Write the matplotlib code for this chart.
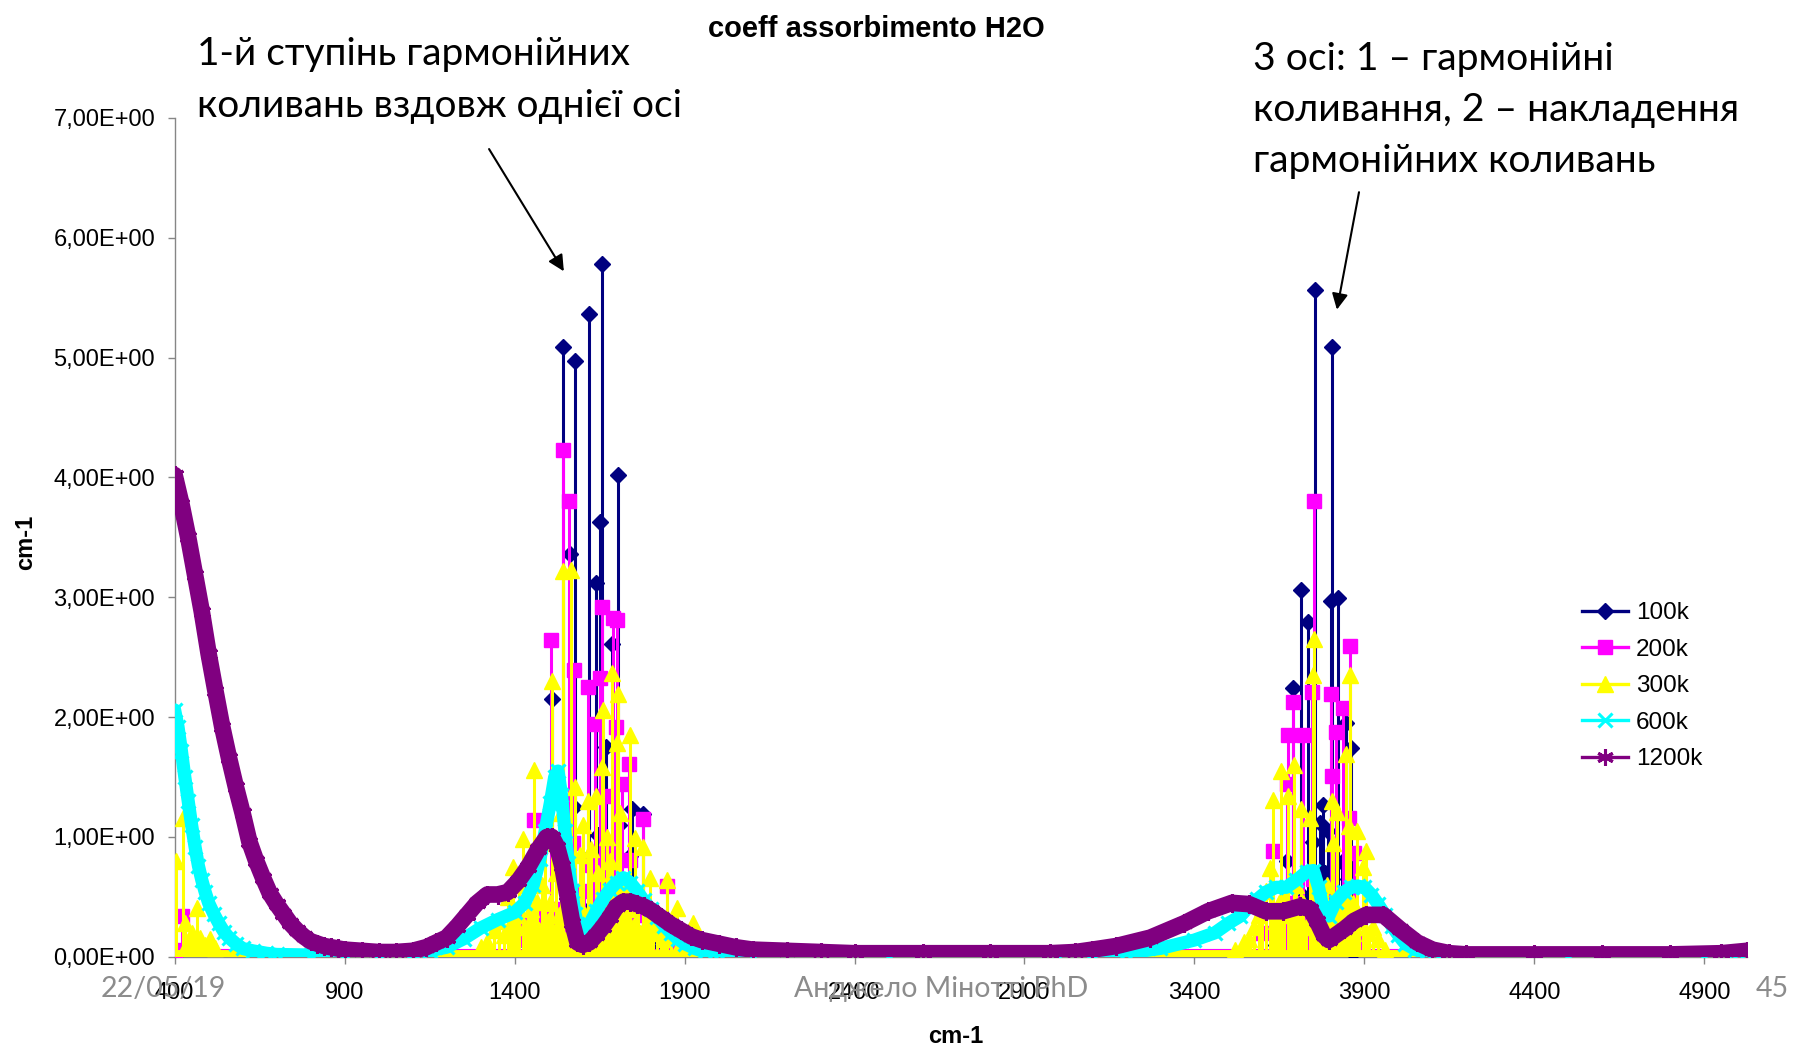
import matplotlib.pyplot as plt
from matplotlib.lines import Line2D
from matplotlib.ticker import FuncFormatter

# --- narrow-line series: line positions (cm-1) and absorption peaks ---
x_100k = [1430, 1470, 1490, 1509, 1520, 1530, 1543, 1550, 1563, 1568, 1575,
          1579, 1595, 1600, 1618, 1625, 1632, 1639, 1646, 1651, 1658, 1663,
          1669, 1680, 1688, 1703, 1708, 1720, 1740, 1745, 1760, 1779, 1800,
          1830,
          3640, 3671, 3691, 3700, 3713, 3722, 3734, 3749, 3754, 3762, 3769,
          3779, 3785, 3793, 3802, 3806, 3815, 3823, 3834, 3846, 3851, 3860,
          3866, 3875]
y_100k = [0.12, 0.18, 0.30, 2.15, 0.35, 0.22, 5.09, 0.30, 3.36, 0.49, 1.25,
          4.97, 0.12, 0.40, 5.36, 0.30, 0.87, 3.12, 1.02, 3.63, 5.78, 0.45,
          1.75, 0.20, 2.61, 4.02, 1.10, 0.35, 0.84, 1.23, 0.50, 1.19, 0.15,
          0.08,
          0.10, 0.80, 2.24, 0.30, 3.06, 0.50, 2.79, 0.96, 5.56, 0.40, 1.12,
          1.27, 0.70, 1.05, 2.97, 5.09, 0.30, 2.99, 0.79, 1.95, 0.65, 1.74,
          0.03, 0.15]

x_200k = [400, 423,
          1400, 1430, 1457, 1480, 1492, 1507, 1520, 1530, 1542, 1561, 1573,
          1576, 1595, 1605, 1617, 1627, 1637, 1644, 1651, 1656, 1666, 1670,
          1676, 1689, 1698, 1702, 1710, 1717, 1737, 1741, 1760, 1777, 1790,
          1820, 1848, 1870,
          3600, 3632, 3650, 3671, 3676, 3691, 3700, 3720, 3730, 3747, 3750,
          3752, 3770, 3785, 3798, 3801, 3806, 3816, 3825, 3838, 3855, 3857,
          3869, 3890]
y_200k = [0.06, 0.34,
          0.15, 0.30, 1.14, 0.35, 0.25, 2.64, 0.40, 0.25, 4.23, 3.80, 0.95,
          2.39, 0.30, 0.55, 2.25, 0.77, 1.94, 0.45, 2.33, 2.92, 1.34, 0.68,
          0.92, 2.83, 1.92, 2.81, 0.30, 1.44, 1.61, 0.81, 0.35, 1.15, 0.20,
          0.25, 0.59, 0.10,
          0.20, 0.88, 0.30, 1.44, 1.85, 2.13, 0.45, 1.85, 0.35, 2.21, 0.65,
          3.80, 0.40, 0.20, 0.49, 2.19, 1.51, 1.88, 0.30, 2.08, 1.16, 2.59,
          0.87, 0.15]

x_300k = [404, 424, 431, 440, 450, 458, 465, 475, 490, 504, 520,
          1300, 1320, 1340, 1355, 1370, 1380, 1390, 1395, 1405, 1412, 1424,
          1432, 1440, 1448, 1458, 1465, 1472, 1480, 1490, 1497, 1504, 1509,
          1515, 1522, 1530, 1536, 1543, 1550, 1556, 1565, 1570, 1578, 1585,
          1592, 1600, 1608, 1617, 1625, 1632, 1639, 1645, 1650, 1656, 1659,
          1665, 1672, 1680, 1688, 1694, 1700, 1703, 1710, 1718, 1725, 1732,
          1740, 1747, 1754, 1762, 1770, 1777, 1785, 1792, 1799, 1808, 1818,
          1830, 1840, 1849, 1860, 1877, 1890, 1905, 1926, 1945,
          3520, 3545, 3560, 3575, 3590, 3600, 3610, 3622, 3632, 3640, 3648,
          3656, 3663, 3674, 3683, 3692, 3700, 3706, 3713, 3720, 3728, 3740,
          3749, 3752, 3760, 3768, 3775, 3782, 3790, 3797, 3805, 3808, 3812,
          3818, 3826, 3833, 3840, 3846, 3850, 3854, 3857, 3865, 3871, 3877,
          3885, 3897, 3905, 3912, 3925, 3940, 3960]
y_300k = [0.80, 1.16, 0.28, 0.12, 0.20, 0.15, 0.41, 0.16, 0.10, 0.15, 0.07,
          0.08, 0.12, 0.22, 0.30, 0.18, 0.50, 0.28, 0.75, 0.35, 0.60, 0.98,
          0.25, 0.70, 0.40, 1.56, 0.46, 0.22, 0.60, 0.95, 0.30, 0.45, 2.30,
          0.20, 0.70, 0.35, 1.20, 3.22, 0.15, 0.60, 3.23, 0.30, 1.42, 0.20,
          0.85, 1.10, 0.35, 1.30, 0.90, 0.25, 1.34, 0.70, 0.40, 1.58, 2.06,
          0.30, 1.00, 0.80, 2.37, 0.45, 1.78, 2.19, 1.20, 0.30, 0.60, 0.40,
          1.85, 0.25, 0.99, 0.50, 0.20, 0.92, 0.45, 0.30, 0.66, 0.35, 0.20,
          0.30, 0.15, 0.64, 0.20, 0.41, 0.12, 0.15, 0.28, 0.08,
          0.06, 0.12, 0.15, 0.25, 0.35, 0.40, 0.55, 0.74, 1.31, 0.30, 0.45,
          1.55, 0.50, 1.34, 0.35, 1.60, 0.60, 0.30, 1.23, 0.45, 0.25, 1.16,
          2.35, 2.65, 0.50, 0.30, 0.20, 0.45, 0.60, 0.25, 1.30, 0.95, 0.40,
          1.21, 0.50, 0.35, 0.45, 1.69, 0.30, 1.09, 2.35, 0.45, 0.25, 1.05,
          0.30, 0.75, 0.88, 0.20, 0.25, 0.15, 0.06]

# baseline level of the narrow-line series between the bands
base_200k = 0.025
base_300k = 0.0

# --- broadened series ---
x_600k = [400, 410, 420, 430, 440, 450, 460, 470, 480, 490, 500, 515, 530,
          545, 560, 580, 600, 630, 670, 700, 800, 900, 1000, 1100, 1150, 1200,
          1250, 1300, 1350, 1400, 1430, 1455, 1475, 1490, 1505, 1518, 1528,
          1538, 1548, 1558, 1568, 1578, 1590, 1605, 1620, 1640, 1660, 1680,
          1700, 1720, 1740, 1760, 1780, 1800, 1820, 1840, 1860, 1880, 1900,
          1930, 1960, 2000, 2100, 2500, 3000, 3100, 3200, 3300, 3400, 3460,
          3500, 3535, 3560, 3585, 3610, 3640, 3670, 3700, 3730, 3750, 3765,
          3780, 3795, 3815, 3840, 3860, 3880, 3900, 3920, 3940, 3960, 3980,
          4000, 4020, 4050, 4080, 4120, 4500, 4900, 4980, 5025]
y_600k = [2.06, 1.92, 1.72, 1.50, 1.30, 1.10, 0.92, 0.76, 0.64, 0.54, 0.45,
          0.36, 0.28, 0.21, 0.16, 0.11, 0.07, 0.05, 0.03, 0.02, 0.015, 0.015,
          0.015, 0.03, 0.05, 0.08, 0.15, 0.24, 0.31, 0.37, 0.45, 0.60, 0.82,
          1.05, 1.28, 1.50, 1.55, 1.35, 1.05, 0.78, 0.55, 0.36, 0.22, 0.20,
          0.27, 0.38, 0.48, 0.56, 0.62, 0.66, 0.62, 0.55, 0.47, 0.40, 0.33,
          0.26, 0.20, 0.15, 0.11, 0.07, 0.04, 0.02, 0.01, 0.01, 0.01, 0.02,
          0.03, 0.07, 0.14, 0.20, 0.28, 0.34, 0.42, 0.48, 0.54, 0.58, 0.58,
          0.64, 0.71, 0.72, 0.58, 0.38, 0.34, 0.46, 0.54, 0.58, 0.59, 0.58,
          0.52, 0.44, 0.35, 0.26, 0.18, 0.11, 0.06, 0.03, 0.01, 0.01, 0.01,
          0.02, 0.04]

x_1200k = [400, 420, 440, 460, 480, 500, 520, 540, 560, 580, 600, 620, 640,
           660, 680, 700, 720, 740, 760, 780, 800, 820, 840, 860, 880, 900,
           950, 1000, 1050, 1100, 1140, 1170, 1200, 1230, 1260, 1290, 1320,
           1350, 1380, 1410, 1440, 1470, 1495, 1510, 1525, 1540, 1555, 1570,
           1585, 1600, 1620, 1640, 1660, 1680, 1700, 1720, 1740, 1760, 1780,
           1800, 1830, 1860, 1890, 1920, 1950, 2000, 2050, 2100, 2200, 2300,
           2400, 2600, 2800, 2975, 3050, 3100, 3170, 3270, 3370, 3440, 3510,
           3560, 3610, 3660, 3710, 3740, 3760, 3780, 3795, 3840, 3870, 3905,
           3955, 4005, 4055, 4100, 4150, 4200, 4400, 4600, 4800, 4950, 5025]
y_1200k = [4.02, 3.78, 3.50, 3.19, 2.88, 2.53, 2.22, 1.92, 1.66, 1.42, 1.20,
           0.96, 0.80, 0.66, 0.53, 0.44, 0.36, 0.28, 0.22, 0.17, 0.13, 0.11,
           0.09, 0.08, 0.07, 0.06, 0.05, 0.04, 0.04, 0.05, 0.08, 0.12, 0.16,
           0.25, 0.35, 0.45, 0.52, 0.52, 0.54, 0.63, 0.75, 0.90, 1.00, 1.00,
           0.92, 0.76, 0.52, 0.28, 0.12, 0.10, 0.12, 0.18, 0.25, 0.33, 0.42,
           0.46, 0.46, 0.44, 0.42, 0.39, 0.33, 0.27, 0.22, 0.17, 0.14, 0.11,
           0.08, 0.06, 0.05, 0.04, 0.03, 0.03, 0.03, 0.03, 0.04, 0.06, 0.09,
           0.16, 0.28, 0.38, 0.45, 0.44, 0.38, 0.38, 0.42, 0.40, 0.30, 0.18,
           0.14, 0.23, 0.30, 0.35, 0.35, 0.23, 0.12, 0.06, 0.03, 0.02, 0.02,
           0.02, 0.02, 0.03, 0.05]

labels = ['100k', '200k', '300k', '600k', '1200k']
x_ticks = [400, 900, 1400, 1900, 2400, 2900, 3400, 3900, 4400, 4900]

note_left = ['1-й ступінь гармонійних', 'коливань вздовж однієї осі']
note_right = ['3 осі: 1 – гармонійні', 'коливання, 2 – накладення',
              'гармонійних коливань']

navy, magenta, yellow = '#000080', '#ff00ff', '#ffff00'
cyan, purple = '#00ffff', '#800080'
star = (6, 2, 0)

plt.rcParams['font.family'] = ['Liberation Sans', 'DejaVu Sans']
note_font = ['Lato', 'Noto Sans', 'DejaVu Sans']

fig = plt.figure(figsize=(18, 10.48), dpi=100)
ax = fig.add_axes([0.097, 0.087, 0.8735, 0.8005])


def stems(xs, ys, color, marker, ms, z):
    ax.vlines(xs, 0, ys, color=color, lw=2.2, zorder=z)
    ax.plot(xs, ys, ls='none', marker=marker, ms=ms, color=color,
            mec=color, zorder=z + 0.5)


stems(x_100k, y_100k, navy, 'D', 8, 2)
ax.axhline(base_200k, color=magenta, lw=8, zorder=3)
stems(x_200k, y_200k, magenta, 's', 10, 3)
ax.axhline(base_300k, color=yellow, lw=10, zorder=4)
stems(x_300k, y_300k, yellow, '^', 11, 4)

# broadened series: thick band plus markers
ax.plot(x_600k, y_600k, color=cyan, lw=9.5, solid_joinstyle='round',
        solid_capstyle='round', zorder=5)
ax.plot(x_600k, y_600k, ls='none', marker='x', ms=10, mew=2.2, color=cyan,
        zorder=5.5)
ax.plot(x_1200k, y_1200k, color=purple, lw=12, solid_joinstyle='round',
        solid_capstyle='round', zorder=6)
ax.plot(x_1200k, y_1200k, ls='none', marker=star, ms=13, mew=2.2,
        color=purple, zorder=6.5)

ax.set_xlim(400, 5025)
ax.set_ylim(0, 7)
ax.set_xticks(x_ticks)
ax.set_yticks(range(0, 8))
ax.yaxis.set_major_formatter(
    FuncFormatter(lambda v, p: f'{v:.2E}'.replace('.', ',')))

for side in ['top', 'right']:
    ax.spines[side].set_visible(False)
for side in ['left', 'bottom']:
    ax.spines[side].set_color('#868686')
    ax.spines[side].set_linewidth(1)
    ax.spines[side].set_zorder(1)
ax.tick_params(axis='both', colors='#868686', labelcolor='black',
               length=5, width=1, labelsize=17)
ax.tick_params(axis='x', pad=13)
ax.tick_params(axis='y', pad=9)

handles = [
    Line2D([], [], color=navy, lw=2.4, marker='D', ms=8),
    Line2D([], [], color=magenta, lw=2.4, marker='s', ms=10),
    Line2D([], [], color=yellow, lw=2.4, marker='^', ms=11),
    Line2D([], [], color=cyan, lw=2.4, marker='x', ms=10, mew=2.2),
    Line2D([], [], color=purple, lw=2.4, marker=star, ms=12, mew=2.2),
]
fig.legend(handles, labels, loc='upper left', bbox_to_anchor=(0.879, 0.4255),
           frameon=False, fontsize=17.5, handlelength=1.9, handletextpad=0.3,
           labelspacing=0.6, borderpad=0, borderaxespad=0)

fig.text(0.487, 0.972, 'coeff assorbimento H2O', ha='center', va='center',
         fontsize=21, fontweight='bold')
fig.text(0.531, 0.0105, 'cm-1', ha='center', va='center', fontsize=17,
         fontweight='bold')
fig.text(0.014, 0.482, 'cm-1', ha='center', va='center', rotation=90,
         fontsize=17, fontweight='bold')

# explanatory notes with arrows to the bands
for i, line in enumerate(note_left):
    fig.text(0.1094, 0.938 - i * 0.0493, line, fontsize=28, va='baseline',
             family=note_font)
for i, line in enumerate(note_right):
    fig.text(0.696, 0.933 - i * 0.0487, line, fontsize=28.2, va='baseline',
             family=note_font)
arrow = dict(arrowstyle='-|>', color='black', lw=1.5, mutation_scale=24,
             shrinkA=0, shrinkB=0)
ax.annotate('', xy=(1545, 5.72), xytext=(1325, 6.74), arrowprops=arrow,
            annotation_clip=False)
ax.annotate('', xy=(3819, 5.40), xytext=(3884, 6.38), arrowprops=arrow,
            annotation_clip=False)

# slide footer
footer = dict(fontsize=20.5, color='#8c8c8c', va='baseline', family=note_font)
fig.text(0.0561, 0.0487, '22/05/19', **footer)
fig.text(0.523, 0.0487, 'Анджело Мінотті PhD', ha='center', **footer)
fig.text(0.9756, 0.0487, '45', **footer)

fig.savefig('out.png', dpi=100)
